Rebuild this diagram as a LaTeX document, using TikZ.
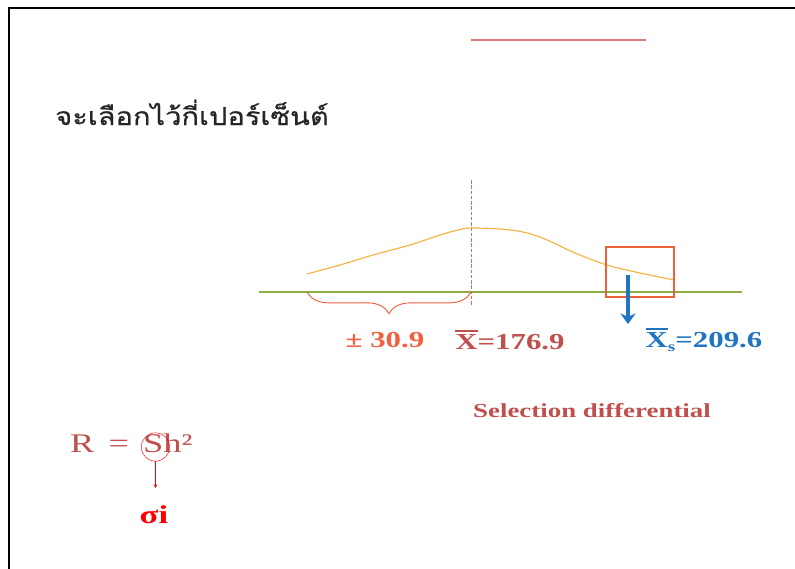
\documentclass[tikz,border=0pt]{standalone}
\usepackage{fontspec}
\setmainfont{Liberation Serif}
\newfontfamily\widefont[FakeStretch=1.35]{Liberation Serif}
\newfontfamily\thaifont[Script=Thai, FakeStretch=1.18, FakeBold=0.5]{Loma}
\usetikzlibrary{decorations.pathreplacing,arrows.meta}
\definecolor{curveorange}{HTML}{F5B347}
\definecolor{baseolive}{HTML}{8CB043}
\definecolor{boxred}{HTML}{F0603C}
\definecolor{meanred}{HTML}{C0504D}
\definecolor{selblue}{HTML}{1F75C2}
\definecolor{lightred}{HTML}{E07A78}
\definecolor{dashred}{HTML}{C87070}
\newcommand\barX{{\setbox0\hbox{X}\rlap{\raisebox{\dimexpr\ht0+1.8pt\relax}{\rule{\wd0}{1.4pt}}}X}}
\begin{document}
\begin{tikzpicture}[x=0.3mm, y=-0.3mm, >=stealth]
\useasboundingbox (0,0) rectangle (795,569);
\coordinate (F1) at (9,569); \coordinate (F2) at (9,8); \coordinate (F3) at (795,8);
\coordinate (T1) at (471,40); \coordinate (T2) at (646,40);
\coordinate (G1) at (259,292); \coordinate (G2) at (742,292);
\coordinate (M1) at (471,180); \coordinate (M2) at (471,305);
\coordinate (L) at (307,292);
\coordinate (A1) at (628,275); \coordinate (A2) at (628,324);
\draw[line width=1.4pt] (F1) -- (F2) -- (F3);
\draw[lightred, line width=1pt] (T1) -- (T2);
\node[anchor=base west, inner sep=0pt, text=black!85, font=\thaifont\fontsize{21}{24}\selectfont] (title) at (55,125) {จะเลือกไว้กี่เปอร์เซ็นต์};
\draw[baseolive, line width=1.3pt] (G1) -- (G2);
\draw[dashred, dashed, dash pattern=on 3pt off 1.5pt, line width=0.8pt] (M1) -- (M2);
\draw[curveorange, line width=1pt] plot[smooth, tension=0.5] coordinates
  {(307,274) (340,265) (373,255) (410,245) (440,235) (458,230) (471,228) (500,229)
   (523,232) (545,239) (575,253) (607,265) (640,273) (674,280)};
\draw[boxred, line width=1pt] (606,247) rectangle (674,297);
\draw[boxred, line width=0.8pt, decorate, decoration={brace, mirror, amplitude=6.5mm}] (L) -- (471,292);
\draw[selblue, line width=3pt, -{Stealth[length=9pt, width=13pt]}] (A1) -- (A2);
\node[boxred, font=\widefont\bfseries\fontsize{19.5}{22}\selectfont] (pm) at (385,340) {± 30.9};
\node[meanred, font=\widefont\bfseries\fontsize{19.5}{22}\selectfont] (xbar) at (510,340) {\barX=176.9};
\node[selblue, font=\widefont\bfseries\fontsize{19.5}{22}\selectfont] (xs) at (704,340) {\barX\raisebox{-0.4ex}{\fontsize{12}{14}\selectfont s}=209.6};
\node[meanred, font=\widefont\bfseries\fontsize{17}{20}\selectfont] (sd) at (592,411) {Selection differential};
\node[meanred, anchor=base west, inner sep=0pt, font=\widefont\fontsize{23}{27}\selectfont] (form) at (70,452) {R\hspace{1.5mm} = \hspace{1.5mm}Sh²};
\node[draw=red, circle, minimum size=8.5mm, inner sep=0pt] (circS) at (155.5,447) {};
\coordinate (tipS) at (155.5,488);
\draw[red, ->] (circS.south) -- (tipS);
\node[red, font=\widefont\bfseries\fontsize{22}{26}\selectfont] (sig) at (154,515) {σi};
\end{tikzpicture}
\end{document}
